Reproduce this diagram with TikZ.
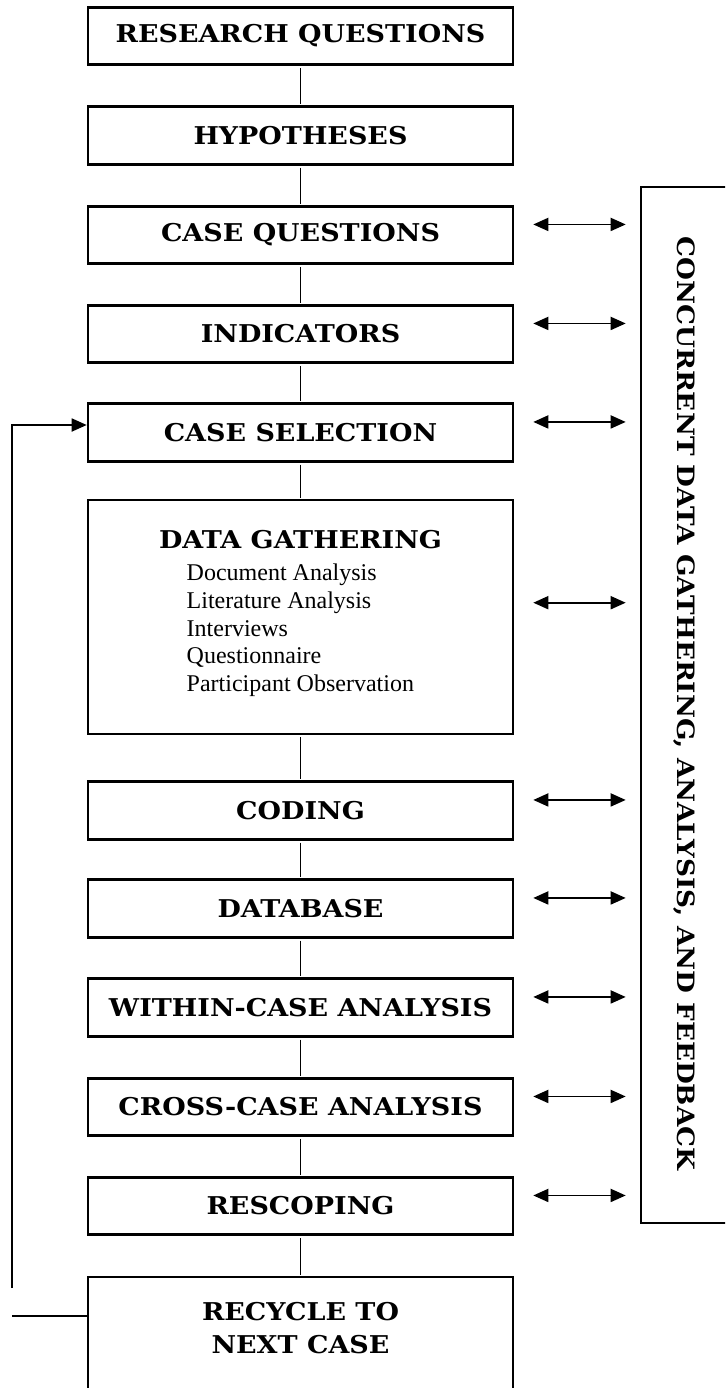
\documentclass[tikz,border=0pt]{standalone}
\usepackage{fontspec}
\setmainfont{Liberation Serif}
\newfontfamily\hfont[FakeStretch=1.1]{DejaVu Serif}
\usetikzlibrary{arrows.meta}
\begin{document}
\begin{tikzpicture}[x=1pt,y=-1pt,
  hd/.style={font=\hfont\bfseries\fontsize{24.5}{33}\selectfont},
  box/.style={draw,line width=2.6pt,minimum width=425pt,minimum height=57.5pt,inner sep=0pt,hd},
  conn/.style={line width=1.8pt,shorten <=2pt,shorten >=1pt},
  biarr/.style={line width=1.8pt,{Triangle[length=15pt,width=13pt]}-{Triangle[length=15pt,width=13pt]},shorten <=19pt,shorten >=14pt},
  loopln/.style={line width=1.8pt}]
\useasboundingbox (0,0) rectangle (725,1388);
\clip (0,0) rectangle (725,1388);
% main column
\node[box] (rq)  at (300.5,36)     {RESEARCH QUESTIONS};
\node[box] (hyp) at (300.5,135.5)  {HYPOTHESES};
\node[box] (cq)  at (300.5,235)    {CASE QUESTIONS};
\node[box] (ind) at (300.5,334)    {INDICATORS};
\node[box] (cs)  at (300.5,432.5)  {CASE SELECTION};
\node[box,minimum height=234pt] (dg) at (300.5,617) {};
\node[hd] (dgt) at (300.5,540) {DATA GATHERING};
\node[anchor=north west,align=left,inner sep=0pt,font=\fontsize{24}{27.7}\selectfont] (dgl) at (186.5,564)
  {Document Analysis\\Literature Analysis\\Interviews\\Questionnaire\\Participant Observation};
\node[box] (cod) at (300.5,810.5)  {CODING};
\node[box] (db)  at (300.5,908.5)  {DATABASE};
\node[box] (wc)  at (300.5,1007.5) {WITHIN-CASE ANALYSIS};
\node[box] (cc)  at (300.5,1107)   {CROSS-CASE ANALYSIS};
\node[box] (res) at (300.5,1206)   {RESCOPING};
\node[box,minimum height=143pt] (rec) at (300.5,1348.5) {};
\node[hd,align=center,inner sep=0pt] (rect) at (300.5,1328.5) {RECYCLE TO\\NEXT CASE};
% connectors
\foreach \a/\b in {rq/hyp,hyp/cq,cq/ind,ind/cs,cs/dg,dg/cod,cod/db,db/wc,wc/cc,cc/res,res/rec}
  \draw[conn] (\a) -- (\b);
% right box
\node[draw,line width=2.6pt,minimum width=104pt,minimum height=1036pt,inner sep=0pt] (rbox) at (693,705) {};
\node[rotate=-90,inner sep=0pt,font=\hfont\bfseries\fontsize{23.9}{30}\selectfont] (rlab) at (684,703.5) {CONCURRENT DATA GATHERING, ANALYSIS, AND FEEDBACK};
% double arrows
\foreach \n in {cq,ind,cs,cod,db,wc,cc,res}{
  \path (\n.north east) ++(0,19.5) coordinate (a-\n);
  \draw[biarr] (a-\n) -- (a-\n -| rbox.west);
}
\path (dg.north east) ++(0,104) coordinate (a-dg);
\draw[biarr] (a-dg) -- (a-dg -| rbox.west);
% recycle loop
\coordinate (lt) at (12,425);
\coordinate (lb) at (12,1288);
\coordinate (lh) at (12,1316);
\draw[loopln,-{Triangle[length=15pt,width=13pt]}] (lb) -- (lt) -- (lt -| cs.west);
\draw[loopln] (lh) -- (lh -| rec.west);
\end{tikzpicture}
\end{document}
